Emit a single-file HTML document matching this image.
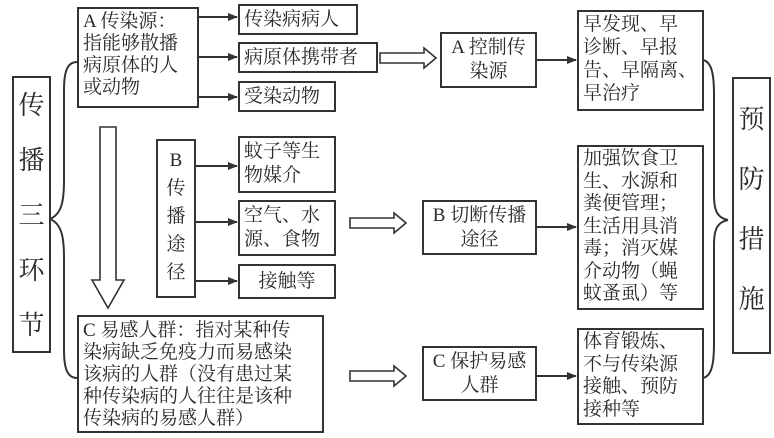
<!DOCTYPE html>
<html><head><meta charset="utf-8"><style>
body{margin:0;width:774px;height:438px;background:#fff;position:relative;overflow:hidden;font-family:"Liberation Serif","Noto Serif CJK SC",serif;color:#2a2a2a}
.b{position:absolute;border:2px solid #333;box-sizing:border-box;font-size:19px;line-height:24px;padding:1px 4px;white-space:nowrap}
.c{text-align:center}
.v{text-align:center;font-size:26px;padding:0}
svg{position:absolute;left:0;top:0}
</style></head><body>
<svg width="774" height="438" fill="none" stroke="#333" stroke-width="2">
<defs><marker id="a" markerWidth="10" markerHeight="8" refX="9" refY="4" orient="auto" markerUnits="userSpaceOnUse"><path d="M0,0 L10,4 L0,8 Z" fill="#333" stroke="none"/></marker></defs>
<path d="M50,219 C62,214 64,200 64,180 L64,90 C64,70 68,62 77,62"/>
<path d="M50,219 C62,224 64,238 64,258 L64,350 C64,370 68,378 77,378"/>
<path d="M703,60 C712,62 714,75 714,95 L714,195 C714,212 718,218 728,220"/>
<path d="M703,378 C712,376 714,363 714,343 L714,245 C714,228 718,222 728,220"/>
<g marker-end="url(#a)">
<line x1="198" y1="17" x2="237" y2="17"/><line x1="198" y1="57" x2="237" y2="57"/><line x1="198" y1="97" x2="237" y2="97"/>
<line x1="195" y1="166" x2="237" y2="166"/><line x1="195" y1="222" x2="237" y2="222"/><line x1="195" y1="281" x2="237" y2="281"/>
<line x1="536" y1="60" x2="576" y2="60"/><line x1="536" y1="227" x2="576" y2="227"/><line x1="536" y1="376" x2="576" y2="376"/>
</g>
<g stroke-width="1.6">
<path d="M380,53 H424 V48 L436,58 L424,68 V63 H380 Z"/>
<path d="M350,218 H394 V213 L406,223 L394,233 V228 H350 Z"/>
<path d="M350,371 H394 V366 L406,376 L394,386 V381 H350 Z"/>
<path d="M100,127 H116 V280 H124 L108,308 L92,280 H100 Z"/>
</g>
</svg>
<div class="b v" style="left:12px;top:76px;width:39px;height:277px;line-height:55px;padding-top:0">传<br>播<br>三<br>环<br>节</div>
<div class="b v" style="left:732px;top:77px;width:39px;height:277px;line-height:60px;padding-top:11px">预<br>防<br>措<br>施</div>
<div class="b" style="left:77px;top:7px;width:122px;height:101px;line-height:22px;padding-top:2px">A 传染源：<br>指能够散播<br>病原体的人<br>或动物</div>
<div class="b" style="left:238px;top:4px;width:120px;height:31px;line-height:26px">传染病病人</div>
<div class="b" style="left:238px;top:42px;width:140px;height:31px;line-height:26px">病原体携带者</div>
<div class="b" style="left:238px;top:81px;width:98px;height:31px;line-height:26px">受染动物</div>
<div class="b c" style="left:156px;top:139px;width:40px;height:159px;line-height:28px;padding:6px 0">B<br>传<br>播<br>途<br>径</div>
<div class="b" style="left:238px;top:136px;width:98px;height:57px;padding-top:2px">蚊子等生<br>物媒介</div>
<div class="b" style="left:238px;top:200px;width:98px;height:56px;padding-top:2px">空气、水<br>源、食物</div>
<div class="b c" style="left:238px;top:264px;width:98px;height:35px;line-height:30px">接触等</div>
<div class="b" style="left:77px;top:315px;width:247px;height:118px;line-height:22px;padding-top:3px">C 易感人群：指对某种传<br>染病缺乏免疫力而易感染<br>该病的人群（没有患过某<br>种传染病的人往往是该种<br>传染病的易感人群）</div>
<div class="b c" style="left:440px;top:32px;width:97px;height:56px;padding-top:2px">A 控制传<br>染源</div>
<div class="b c" style="left:422px;top:200px;width:115px;height:55px;padding-top:2px">B 切断传播<br>途径</div>
<div class="b c" style="left:422px;top:346px;width:115px;height:55px;padding-top:2px">C 保护易感<br>人群</div>
<div class="b" style="left:577px;top:10px;width:127px;height:101px;line-height:23px">早发现、早<br>诊断、早报<br>告、早隔离、<br>早治疗</div>
<div class="b" style="left:577px;top:145px;width:127px;height:165px;line-height:22.5px">加强饮食卫<br>生、水源和<br>粪便管理；<br>生活用具消<br>毒；消灭媒<br>介动物（蝇<br>蚊蚤虱）等</div>
<div class="b" style="left:577px;top:328px;width:127px;height:97px;line-height:22.5px">体育锻炼、<br>不与传染源<br>接触、预防<br>接种等</div>
</body></html>
